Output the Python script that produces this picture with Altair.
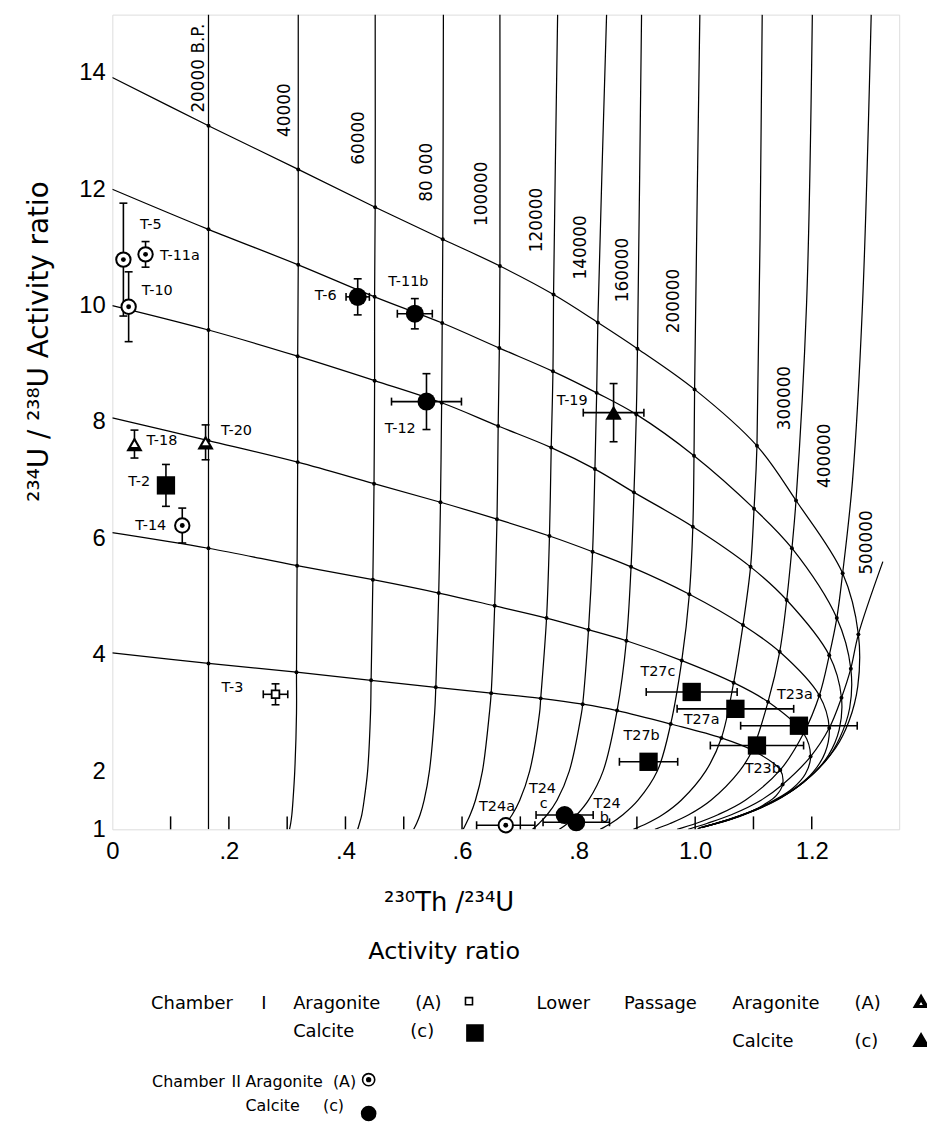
import altair as alt
import pandas as pd

FONT = "DejaVu Sans"
AXFONT = "Liberation Sans"
W, H = 792, 820          # plot area (px)
X_MAX, Y_MIN, Y_MAX = 1.35, 1.0, 15.0

# ---------------- evolution grid ----------------
ages_k = [20, 40, 60, 80, 100, 120, 140, 160, 200, 250, 300, 400, 500]
ratio_levels = [14, 12, 10, 8, 6, 4]
ratio_start_y = [13.92, 12.0, 10.0, 8.07, 6.10, 4.03]

r14_x = [0.165, 0.319, 0.451, 0.567, 0.665, 0.757, 0.833, 0.901, 0.999, 1.106, 1.173, 1.253, 1.280]
r14_y = [13.09, 12.34, 11.69, 11.14, 10.68, 10.19, 9.71, 9.26, 8.56, 7.59, 6.65, 5.40, 4.35]
r12_x = [0.165, 0.319, 0.450, 0.566, 0.664, 0.756, 0.831, 0.899, 0.998, 1.101, 1.166, 1.243, 1.267]
r12_y = [11.31, 10.70, 10.15, 9.70, 9.27, 8.87, 8.50, 8.13, 7.42, 6.51, 5.83, 4.63, 3.76]
r10_x = [0.165, 0.318, 0.450, 0.565, 0.662, 0.753, 0.828, 0.895, 0.996, 1.095, 1.157, 1.230, 1.251]
r10_y = [9.58, 9.13, 8.71, 8.33, 7.93, 7.56, 7.19, 6.79, 6.20, 5.51, 4.94, 3.99, 3.26]
r8_x = [0.165, 0.318, 0.449, 0.563, 0.660, 0.750, 0.824, 0.890, 0.990, 1.082, 1.145, 1.213, 1.230]
r8_y = [7.68, 7.31, 6.94, 6.62, 6.33, 6.04, 5.77, 5.51, 5.04, 4.51, 4.05, 3.30, 2.74]
r6_x = [0.165, 0.317, 0.447, 0.560, 0.656, 0.745, 0.817, 0.882, 0.977, 1.066, 1.125, 1.186, 1.198]
r6_y = [5.83, 5.53, 5.29, 5.06, 4.84, 4.63, 4.43, 4.24, 3.90, 3.52, 3.19, 2.65, 2.25]
r4_x = [0.165, 0.316, 0.444, 0.555, 0.650, 0.735, 0.807, 0.866, 0.958, 1.045, 1.098, 1.146, 1.150]
r4_y = [3.85, 3.70, 3.56, 3.44, 3.34, 3.25, 3.15, 3.04, 2.81, 2.57, 2.36, 2.02, 1.77]

# tails of the initial-ratio curves (600k ... 2000k yr)
t14_x = [1.279, 1.264, 1.241, 1.185, 1.130, 1.067, 1.018]
t14_y = [3.46, 2.86, 2.40, 1.80, 1.46, 1.20, 1.05]
t12_x = [1.265, 1.248, 1.225, 1.169, 1.116, 1.058, 1.015]
t12_y = [3.08, 2.57, 2.19, 1.68, 1.39, 1.17, 1.04]
t10_x = [1.247, 1.229, 1.204, 1.149, 1.099, 1.048, 1.012]
t10_y = [2.71, 2.28, 1.97, 1.55, 1.31, 1.14, 1.03]
t8_x = [1.223, 1.203, 1.177, 1.125, 1.081, 1.039, 1.009]
t8_y = [2.32, 1.99, 1.75, 1.43, 1.24, 1.11, 1.03]
t6_x = [1.189, 1.168, 1.143, 1.097, 1.061, 1.028, 1.006]
t6_y = [1.95, 1.71, 1.54, 1.31, 1.17, 1.08, 1.02]
t4_x = [1.139, 1.119, 1.099, 1.063, 1.038, 1.016, 1.004]
t4_y = [1.58, 1.43, 1.32, 1.18, 1.10, 1.045, 1.01]

# lower ends of the isochrons (below the 4 curve)
iso_low_y = [1.0, 1.1, 1.25, 1.5, 2.0, 3.0]
iso_low_x = [
    [0.165, 0.165, 0.165, 0.165, 0.165, 0.165],
    [0.304, 0.306, 0.308, 0.310, 0.313, 0.316],
    [0.421, 0.424, 0.428, 0.432, 0.438, 0.443],
    [0.517, 0.522, 0.528, 0.535, 0.544, 0.553],
    [0.602, 0.607, 0.614, 0.623, 0.635, 0.647],
    [0.666, 0.675, 0.686, 0.699, 0.716, 0.733],
    [0.721, 0.732, 0.746, 0.763, 0.784, 0.805],
    [0.767, 0.781, 0.797, 0.817, 0.842],
    [0.837, 0.855, 0.876, 0.902, 0.935],
    [0.894, 0.917, 0.944, 0.976, 1.018],
    [0.931, 0.957, 0.989, 1.027, 1.076],
    [0.969, 1.001, 1.039, 1.086],
    [0.988, 1.020, 1.062, 1.113],
]
# upper ends of the isochrons (above the 14 curve)
iso_top_x = [[0.165], [0.319], [0.451], [0.568], [0.665], [0.764], [0.848], [0.908],
             [1.008], [1.115], [1.191, 1.201], [1.270, 1.287, 1.302], [1.322]]
iso_top_y = [[15], [15], [15], [15], [15], [15], [15], [15],
             [15], [15], [10, 15], [7, 10, 15], [5.6]]

iso_label_text = ["20000 B.P.", "40000", "60000", "80 000", "100000", "120000",
                  "140000", "160000", "200000", "300000", "400000", "500000"]
iso_label_x = [0.148, 0.297, 0.424, 0.540, 0.634, 0.728, 0.805, 0.876, 0.964, 1.154, 1.222, 1.294]
iso_label_y = [14.08, 13.36, 12.88, 12.29, 11.92, 11.47, 11.00, 10.61, 10.08, 8.41, 7.42, 5.93]

# ---------------- samples ----------------
sample_name = ["T-5", "T-11a", "T-10", "T-14", "T24a", "T-3", "T-2", "T27c", "T27a", "T23a",
               "T23b", "T27b", "T-6", "T-11b", "T-12", "T24c", "T24b", "T-18", "T-20", "T-19"]
sample_group = ["c2A", "c2A", "c2A", "c2A", "c2A", "c1A", "c1C", "c1C", "c1C", "c1C",
                "c1C", "c1C", "c2C", "c2C", "c2C", "c2C", "c2C", "lpA", "lpA", "lpC"]
sample_x = [0.019, 0.057, 0.028, 0.120, 0.675, 0.280, 0.092, 0.994, 1.069, 1.178,
            1.106, 0.920, 0.421, 0.519, 0.539, 0.776, 0.796, 0.038, 0.160, 0.860]
sample_y = [10.79, 10.88, 9.98, 6.22, 1.07, 3.32, 6.91, 3.36, 3.07, 2.78,
            2.44, 2.16, 10.15, 9.86, 8.35, 1.245, 1.12, 7.62, 7.65, 8.16]
sample_xerr = [0, 0, 0, 0, 0.05, 0.021, 0, 0.078, 0.10, 0.10,
               0.08, 0.05, 0.02, 0.03, 0.06, 0.049, 0.057, 0, 0, 0.052]
sample_yerr = [0.97, 0.22, 0.60, 0.30, 0, 0.18, 0.36, 0, 0, 0,
               0, 0, 0.31, 0.26, 0.48, 0, 0, 0.24, 0.30, 0.50]

label_text = ["T-5", "T-11a", "T-10", "T-14", "T24a", "T-3", "T-2", "T27c", "T27a", "T23a",
              "T23b", "T27b", "T-6", "T-11b", "T-12", "T24", "c", "T24", "b", "T-18", "T-20", "T-19"]
label_x = [0.066, 0.116, 0.077, 0.066, 0.660, 0.206, 0.046, 0.936, 1.011, 1.171,
           1.116, 0.908, 0.366, 0.508, 0.494, 0.738, 0.740, 0.849, 0.844, 0.085, 0.213, 0.789]
label_y = [11.38, 10.85, 10.25, 6.22, 1.39, 3.42, 6.96, 3.71, 2.88, 3.30,
           2.04, 2.60, 10.17, 10.41, 7.88, 1.70, 1.43, 1.43, 1.19, 7.68, 7.85, 8.36]

x_tick_values = [0.1, 0.2, 0.3, 0.4, 0.5, 0.6, 0.7, 0.8, 0.9, 1.0, 1.1, 1.2]
x_label_values = [0, 0.2, 0.4, 0.6, 0.8, 1.0, 1.2]
y_label_values = [1, 2, 4, 6, 8, 10, 12, 14]

# ---------------- tables ----------------
ratio_x = [r14_x, r12_x, r10_x, r8_x, r6_x, r4_x]
ratio_y = [r14_y, r12_y, r10_y, r8_y, r6_y, r4_y]
tail_x = [t14_x, t12_x, t10_x, t8_x, t6_x, t4_x]
tail_y = [t14_y, t12_y, t10_y, t8_y, t6_y, t4_y]

rows = []
for lv, y0, xs, ys, txs, tys in zip(ratio_levels, ratio_start_y, ratio_x, ratio_y, tail_x, tail_y):
    px = [0.0] + xs + txs
    py = [y0] + ys + tys
    for o, (a, b) in enumerate(zip(px, py)):
        rows.append({"curve": f"r{lv}", "o": o, "x": a, "y": b})
for i, age in enumerate(ages_k):
    lx = iso_low_x[i]
    px = list(lx) + [xs[i] for xs in reversed(ratio_x)] + iso_top_x[i]
    py = iso_low_y[:len(lx)] + [ys[i] for ys in reversed(ratio_y)] + iso_top_y[i]
    for o, (a, b) in enumerate(zip(px, py)):
        rows.append({"curve": f"t{age}", "o": o, "x": a, "y": b})
lines = pd.DataFrame(rows)

dots = pd.DataFrame([{"x": xs[i], "y": ys[i]} for xs, ys in zip(ratio_x, ratio_y)
                     for i in range(len(ages_k))])

samples = pd.DataFrame({"name": sample_name, "group": sample_group, "x": sample_x,
                        "y": sample_y, "xerr": sample_xerr, "yerr": sample_yerr})
samples["x_lo"] = samples.x - samples.xerr
samples["x_hi"] = samples.x + samples.xerr
samples["y_lo"] = samples.y - samples.yerr
samples["y_hi"] = samples.y + samples.yerr
vbars = samples[samples.yerr > 0]
hbars = samples[samples.xerr > 0]

labels = pd.DataFrame({"t": label_text, "x": label_x, "y": label_y})
iso_labels = pd.DataFrame({"t": iso_label_text, "x": iso_label_x, "y": iso_label_y})

# ---------------- scales / axes ----------------
xs_ = alt.Scale(domain=[0, X_MAX], nice=False, zero=False)
ys_ = alt.Scale(domain=[Y_MIN, Y_MAX], nice=False, zero=False)

x_axis = alt.Axis(values=x_label_values, grid=False, ticks=False, domain=False,
                  title=None, labelFont=AXFONT, labelFontSize=24,
                  labelPadding=10, labelFlush=False, labelColor="black", labelOverlap=False,
                  labelExpr="datum.value == 0 ? '0' : (datum.value < 1 ? replace(format(datum.value, '.1f'), '0.', '.') : format(datum.value, '.1f'))")
y_axis = alt.Axis(values=y_label_values, grid=False, ticks=False, domain=False,
                  title=None, labelFont=AXFONT, labelFontSize=24,
                  labelPadding=7, labelFlush=False, labelColor="black", labelOverlap=False,
                  format="d")


def X(f):
    return alt.X(f, type="quantitative", scale=xs_, axis=x_axis)


def Y(f):
    return alt.Y(f, type="quantitative", scale=ys_, axis=y_axis)


curves = alt.Chart(lines).mark_line(color="black", strokeWidth=1.25, interpolate="catmull-rom",
                                    clip=True).encode(
    x=X("x"), y=Y("y"), detail="curve:N", order="o:Q")

grid_dots = alt.Chart(dots).mark_circle(color="black", size=16, opacity=1).encode(x=X("x"), y=Y("y"))

ticks = alt.Chart(pd.DataFrame({"t": x_tick_values})).mark_rule(color="black", strokeWidth=1.5).encode(
    x=X("t"), y=alt.value(H), y2=alt.value(H - 13))

vbar = alt.Chart(vbars).mark_rule(color="black", strokeWidth=1.6).encode(x=X("x"), y=Y("y_lo"), y2="y_hi")
vcap_lo = alt.Chart(vbars).mark_tick(color="black", orient="horizontal", size=8, thickness=1.6,
                                     opacity=1).encode(x=X("x"), y=Y("y_lo"))
vcap_hi = alt.Chart(vbars).mark_tick(color="black", orient="horizontal", size=8, thickness=1.6,
                                     opacity=1).encode(x=X("x"), y=Y("y_hi"))
hbar = alt.Chart(hbars).mark_rule(color="black", strokeWidth=1.6).encode(y=Y("y"), x=X("x_lo"), x2="x_hi")
hcap_lo = alt.Chart(hbars).mark_tick(color="black", orient="vertical", size=8, thickness=1.6,
                                     opacity=1).encode(y=Y("y"), x=X("x_lo"))
hcap_hi = alt.Chart(hbars).mark_tick(color="black", orient="vertical", size=8, thickness=1.6,
                                     opacity=1).encode(y=Y("y"), x=X("x_hi"))


def pts(group, **kw):
    return alt.Chart(samples).transform_filter(alt.datum.group == group).mark_point(
        color="black", opacity=1, **kw).encode(x=X("x"), y=Y("y"))


markers = [
    pts("c1A", shape="square", filled=True, fill="white", stroke="black", strokeWidth=1.8, size=60),
    pts("c1C", shape="square", filled=True, size=340),
    pts("c2A", shape="circle", filled=True, fill="white", stroke="black", strokeWidth=2.0, size=210),
    pts("c2A", shape="circle", filled=True, size=24),
    pts("c2C", shape="circle", filled=True, size=330),
    pts("lpA", shape="triangle-up", filled=True, size=270),
    pts("lpA", shape="triangle-up", filled=True, fill="white", size=45),
    pts("lpC", shape="triangle-up", filled=True, size=270),
]

label_layer = alt.Chart(labels).mark_text(font=FONT, fontSize=14.5, color="black").encode(
    x=X("x"), y=Y("y"), text="t:N")
iso_label_layer = alt.Chart(iso_labels).mark_text(font=FONT, fontSize=17, angle=270,
                                                  color="black").encode(
    x=X("x"), y=Y("y"), text="t:N")

one = pd.DataFrame({"a": [0]})


def txt(s, px, py, size=18, align="left", angle=0):
    return alt.Chart(one).mark_text(font=FONT, fontSize=size, align=align, baseline="middle",
                                    angle=angle, color="black").encode(
        x=alt.value(px), y=alt.value(py), text=alt.value(s))


def sym(shape, px, py, size, filled=True, fill="black", sw=1.6):
    return alt.Chart(one).mark_point(shape=shape, filled=True, fill=fill if filled else "white",
                                     stroke="black", strokeWidth=sw, size=size, opacity=1).encode(
        x=alt.value(px), y=alt.value(py))


titles = [
    txt("²³⁰Th /²³⁴U", 339, 894, size=26, align="center"),
    txt("Activity  ratio", 334, 944, size=24, align="center"),
    txt("²³⁴U / ²³⁸U   Activity  ratio", -73, 329, size=28, align="center", angle=270),
]

legend = [
    txt("Chamber", 39, 996), txt("I", 150, 996), txt("Aragonite", 182, 996), txt("(A)", 305, 996),
    sym("square", 359, 993, 50, filled=False),
    txt("Calcite", 182, 1024), txt("(c)", 300, 1024), sym("square", 365, 1025, 260),
    txt("Lower", 427, 996), txt("Passage", 515, 996), txt("Aragonite", 624, 996), txt("(A)", 747, 996),
    sym("triangle-up", 814, 993, 200), sym("triangle-up", 814, 995, 40, fill="white"),
    txt("Calcite", 624, 1034), txt("(c)", 747, 1034), sym("triangle-up", 814, 1032, 220),
    txt("Chamber", 40, 1074, size=16), txt("II", 120, 1074, size=16),
    txt("Aragonite", 134, 1074, size=16), txt("(A)", 222, 1074, size=16),
    sym("circle", 258, 1072, 150, filled=False), sym("circle", 258, 1072, 14),
    txt("Calcite", 134, 1099, size=16), txt("(c)", 212, 1099, size=16),
    sym("circle", 258, 1106, 200),
]

chart = alt.layer(curves, grid_dots, ticks, vbar, vcap_lo, vcap_hi, hbar, hcap_lo, hcap_hi,
                  *markers, label_layer, iso_label_layer, *titles, *legend).properties(
    width=W, height=H,
    padding={"left": 105, "top": 3, "right": 28, "bottom": 300},
    autosize=alt.AutoSizeParams(type="none"),
).configure_view(stroke="black", strokeWidth=2).configure(background="white")

chart.save("out.html", embed_options={"renderer": "svg", "actions": False})
